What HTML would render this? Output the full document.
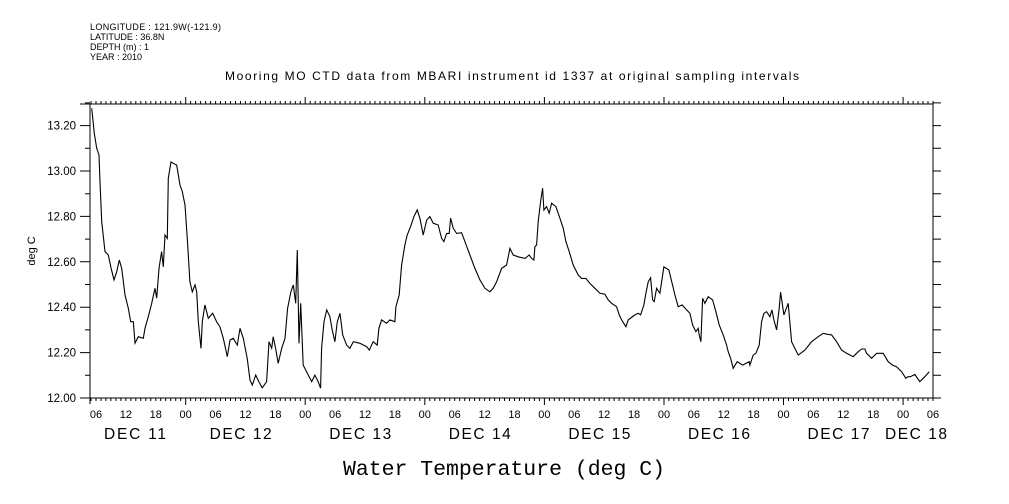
<!DOCTYPE html>
<html><head><meta charset="utf-8"><style>
html,body{margin:0;padding:0;background:#fff;}
svg{display:block;font-family:"Liberation Sans",sans-serif;}
</style></head><body>
<svg id="chart" width="1009" height="504" viewBox="0 0 1009 504" xmlns="http://www.w3.org/2000/svg">
<g font-size="9" fill="#000">
<text x="90" y="30" textLength="131">LONGITUDE : 121.9W(-121.9)</text>
<text x="90" y="40">LATITUDE : 36.8N</text>
<text x="90" y="50">DEPTH (m) : 1</text>
<text x="90" y="60">YEAR : 2010</text>
</g>
<text x="512" y="80" text-anchor="middle" font-size="12" textLength="574">Mooring MO CTD data from MBARI instrument id 1337 at original sampling intervals</text>
<text transform="translate(35,251) rotate(-90)" text-anchor="middle" font-size="11">deg C</text>
<text x="504" y="475" text-anchor="middle" font-family="Liberation Mono,monospace" font-size="21.5" textLength="322">Water Temperature (deg C)</text>
<g id="axes"></g>
<path id="series" fill="none" stroke="#000" stroke-width="1.1"/>
</svg>
<script>
// hours since 2010-12-11 00:00
const hours=[5.14,5.66,6.14,6.60,6.80,7.14,7.81,8.47,9.01,9.61,10.15,10.68,11.16,11.82,12.48,12.96,13.49,13.83,14.49,15.49,15.83,16.50,17.18,17.84,18.18,18.64,19.18,19.51,19.85,20.31,20.51,21.05,21.51,22.20,22.86,23.32,23.86,24.40,24.86,25.33,25.87,26.21,26.53,27.07,27.33,27.87,28.54,29.42,30.22,30.88,31.55,32.35,32.89,33.55,34.36,34.90,35.56,36.36,36.91,37.37,38.05,38.71,39.37,40.25,40.72,41.26,41.58,42.06,42.58,43.27,43.93,44.47,45.13,45.60,46.08,46.40,46.74,47.08,47.60,48.28,49.29,49.95,50.61,51.09,51.29,51.76,52.30,52.96,53.42,53.96,54.43,54.97,55.51,56.31,56.97,57.64,58.98,60.33,60.85,61.65,62.45,62.79,63.33,64.34,65.00,66.00,66.20,66.87,67.35,68.01,68.47,69.15,69.82,70.48,71.02,71.68,72.37,73.03,73.69,74.69,75.37,75.84,76.38,76.90,77.18,77.70,78.39,79.39,80.05,81.06,82.06,83.06,84.07,85.07,85.73,86.41,87.42,88.42,89.08,89.75,90.75,92.10,92.96,93.44,93.90,94.10,94.44,94.76,95.24,95.64,95.91,96.45,96.97,97.45,98.31,99.12,99.78,100.32,100.98,101.79,102.79,103.47,104.33,105.14,106.14,107.15,108.15,108.81,109.49,110.50,111.02,111.50,112.37,112.82,114.17,114.83,115.31,115.98,116.32,116.84,117.32,117.72,118.04,118.52,119.19,119.99,121.00,122.20,122.86,123.66,124.54,125.21,125.75,126.41,126.87,127.07,127.41,127.75,128.21,128.88,129.76,130.42,131.09,131.89,132.57,132.89,133.37,133.89,134.70,135.78,137.11,137.25,137.91,138.45,139.11,139.59,140.05,140.60,141.26,141.66,142.06,142.61,143.13,143.41,144.07,144.93,145.62,146.94,148.29,149.63,150.95,151.96,152.96,153.64,154.65,155.65,156.66,157.98,158.98,159.67,160.33,160.67,161.67,162.67,164.00,165.00,165.88,166.68,167.69,168.55,169.01,169.49,170.35,171.36,172.36,173.23];
const temps=[13.276,13.166,13.10,13.07,12.953,12.777,12.645,12.63,12.573,12.52,12.556,12.608,12.571,12.454,12.395,12.336,12.336,12.242,12.27,12.263,12.307,12.358,12.417,12.483,12.44,12.571,12.645,12.578,12.718,12.703,12.968,13.04,13.034,13.026,12.938,12.909,12.85,12.674,12.512,12.468,12.498,12.468,12.336,12.219,12.336,12.41,12.351,12.373,12.336,12.314,12.263,12.182,12.255,12.263,12.233,12.307,12.263,12.175,12.079,12.057,12.101,12.072,12.045,12.072,12.248,12.219,12.27,12.219,12.153,12.219,12.263,12.395,12.468,12.498,12.417,12.652,12.241,12.417,12.145,12.116,12.072,12.101,12.072,12.043,12.219,12.336,12.388,12.358,12.3,12.248,12.336,12.373,12.278,12.233,12.219,12.248,12.241,12.226,12.211,12.248,12.233,12.307,12.344,12.329,12.344,12.336,12.402,12.454,12.586,12.674,12.718,12.755,12.799,12.828,12.792,12.718,12.784,12.799,12.77,12.762,12.703,12.689,12.725,12.725,12.792,12.748,12.725,12.728,12.689,12.63,12.571,12.52,12.483,12.468,12.483,12.512,12.571,12.586,12.659,12.63,12.622,12.615,12.63,12.615,12.608,12.667,12.674,12.777,12.865,12.924,12.828,12.843,12.814,12.858,12.843,12.792,12.748,12.689,12.645,12.586,12.542,12.527,12.527,12.505,12.483,12.461,12.457,12.432,12.417,12.402,12.366,12.344,12.314,12.344,12.366,12.373,12.366,12.41,12.454,12.512,12.53,12.432,12.424,12.483,12.461,12.578,12.564,12.454,12.402,12.41,12.388,12.373,12.322,12.292,12.307,12.278,12.248,12.439,12.417,12.446,12.432,12.38,12.322,12.278,12.233,12.204,12.175,12.131,12.16,12.145,12.16,12.145,12.189,12.197,12.233,12.336,12.373,12.38,12.358,12.388,12.344,12.3,12.395,12.466,12.366,12.417,12.248,12.189,12.211,12.248,12.27,12.285,12.28,12.278,12.248,12.211,12.197,12.182,12.204,12.216,12.216,12.197,12.175,12.197,12.197,12.16,12.145,12.138,12.116,12.087,12.094,12.094,12.104,12.072,12.094,12.116,12.119,12.123];
const yTickValues=[12.0,12.2,12.4,12.6,12.8,13.0,13.2];
const yTickLabels=["12.00","12.20","12.40","12.60","12.80","13.00","13.20"];
const hourLabels=["00","06","12","18"];
const dayLabels=["DEC 11","DEC 12","DEC 13","DEC 14","DEC 15","DEC 16","DEC 17","DEC 18"];

const X0=90,X1=933,Y0=104,Y1=398;
const xMin=4.8,xMax=174,yMin=12.0,yMax=13.295;
const x=h=>X0+(h-xMin)/(xMax-xMin)*(X1-X0);
const y=v=>Y1-(v-yMin)/(yMax-yMin)*(Y1-Y0);
const NS="http://www.w3.org/2000/svg";
const axes=document.getElementById('axes');
let d="";
d+=`M${X0} ${Y0}H${X1}V${Y1}H${X0}Z`;
d+=`M80 ${Y0}H${X0}M${X0} ${Y1}V${Y1+6}`;
for(let h=Math.ceil(xMin);h<=xMax;h++){
  const px=x(h).toFixed(1);
  const len=(h%24===0)?7:3;
  d+=`M${px} ${Y1}v${len}M${px} ${Y0}v-${len}`;
}
for(let i=0;i<=13;i++){
  const v=12+i*0.1;
  const py=y(v).toFixed(1);
  const len=(i%2===0)?10:5;
  d+=`M${X0} ${py}h-${len}M${X1} ${py}h8`;
}
const p=document.createElementNS(NS,'path');
p.setAttribute('d',d);p.setAttribute('stroke','#000');p.setAttribute('fill','none');p.setAttribute('stroke-width','1');


axes.appendChild(p);
function txt(xp,yp,s,size,anchor){
  const t=document.createElementNS(NS,'text');
  t.setAttribute('x',xp);t.setAttribute('y',yp);t.setAttribute('font-size',size);
  t.setAttribute('text-anchor',anchor);t.textContent=s;
  axes.appendChild(t);return t;
}
yTickValues.forEach((v,i)=>{
  const t=txt(76,y(v)+4,yTickLabels[i],11.5,'end');
  
  
});
for(let h=6;h<=xMax;h+=6){
  const t=txt(x(h),418,hourLabels[(h/6)%4],11,'middle');
  
  
}
dayLabels.forEach((s,i)=>{
  let sx=x(i*24)+24;
  if(sx<104)sx=104;
  if(sx>885)sx=885;
  const t=txt(sx,439,s,15.5,'start');
  t.setAttribute('textLength','62');
  
  
});
let sd="";
hours.forEach((h,i)=>{sd+=(i?"L":"M")+x(h).toFixed(1)+" "+y(temps[i]).toFixed(1);});
document.getElementById('series').setAttribute('d',sd);
</script>
</body></html>
